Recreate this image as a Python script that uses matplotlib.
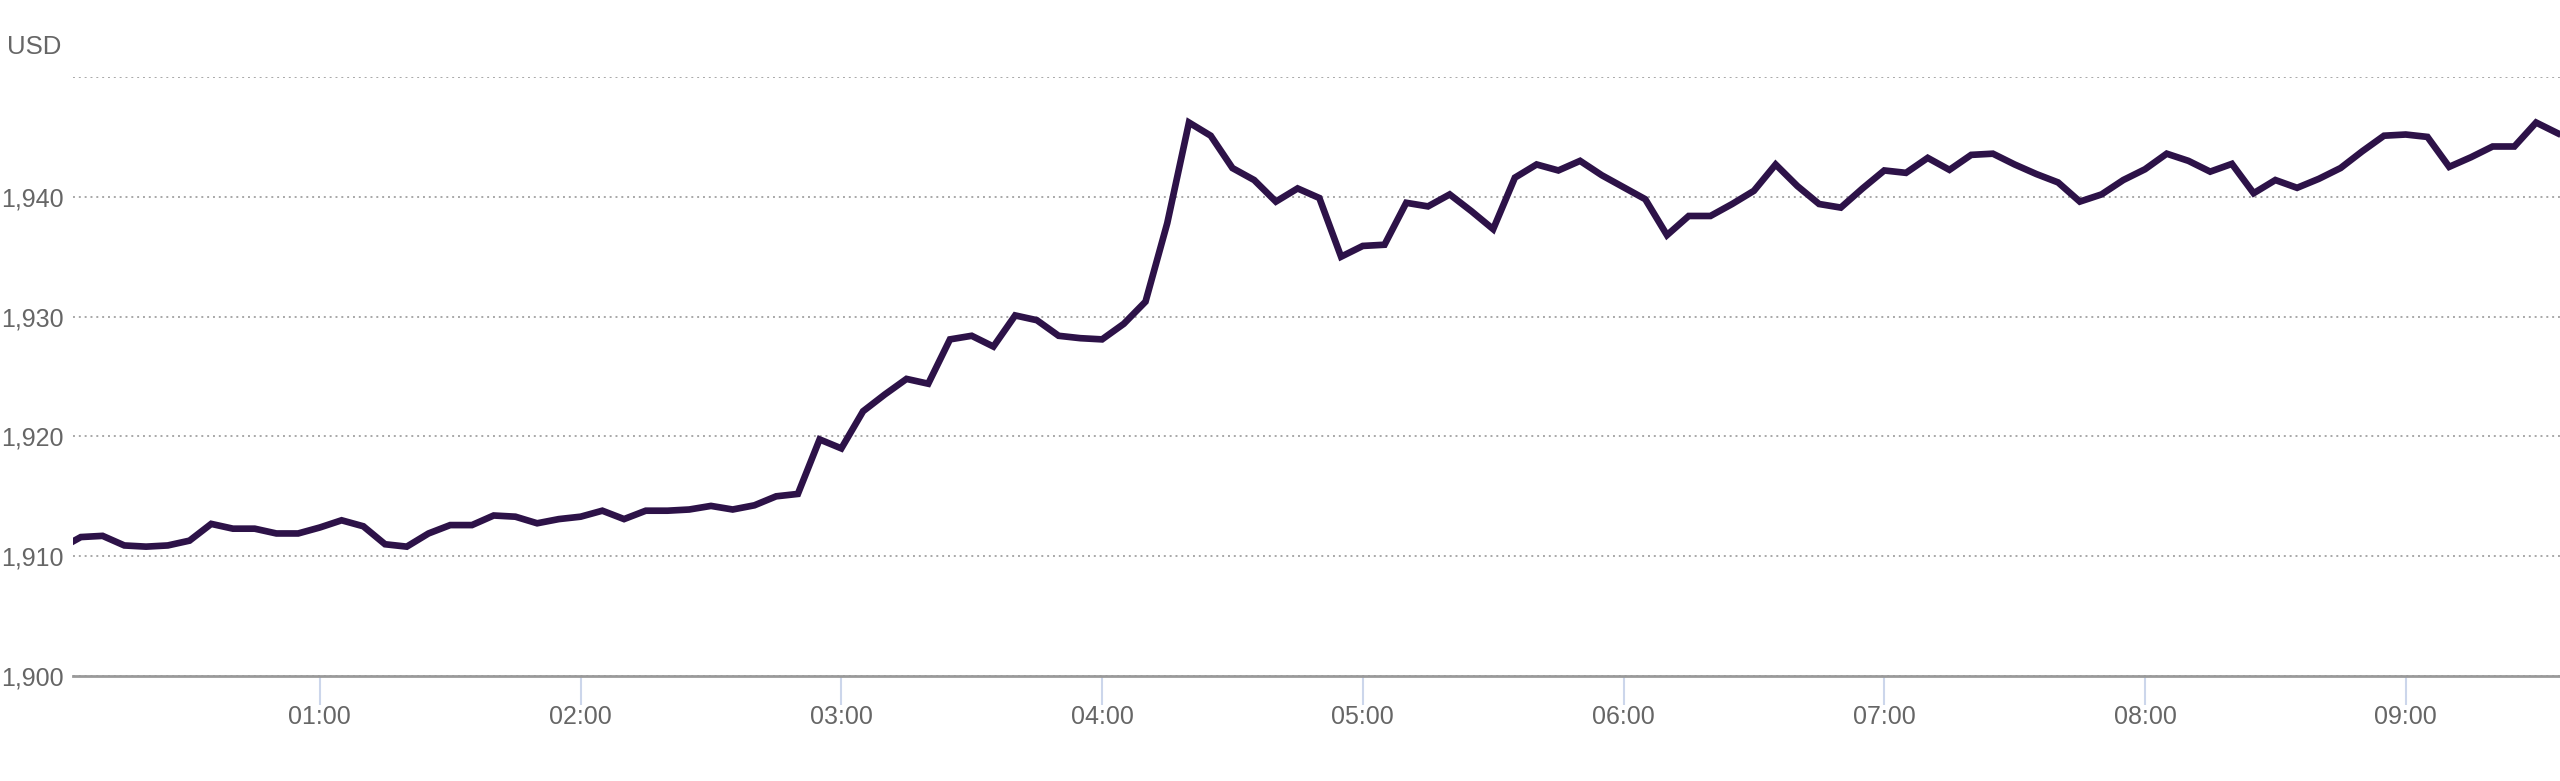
#!/usr/bin/env python3
"""
Intraday price line (5 minute steps), USD.
"""

import matplotlib
matplotlib.use("Agg")
import matplotlib.pyplot as plt

# 5 minute prices starting at 00:00
START_MIN = 0
STEP_MIN = 5
prices = [
    1910.6, 1911.6, 1911.7, 1910.9, 1910.8, 1910.9, 1911.3, 1912.7, 1912.3, 1912.3,
    1911.9, 1911.9, 1912.4, 1913.0, 1912.5, 1911.0, 1910.8, 1911.9, 1912.6, 1912.6,
    1913.4, 1913.3, 1912.75, 1913.1, 1913.3, 1913.8, 1913.1, 1913.8, 1913.8, 1913.9,
    1914.2, 1913.9, 1914.25, 1915.0, 1915.2, 1919.75, 1919.0, 1922.1, 1923.5, 1924.8,
    1924.4, 1928.1, 1928.4, 1927.5, 1930.1, 1929.7, 1928.4, 1928.2, 1928.1, 1929.4,
    1931.25, 1937.8, 1946.2, 1945.1, 1942.4, 1941.4, 1939.6, 1940.7, 1939.9, 1935.0,
    1935.9, 1936.0, 1939.5, 1939.2, 1940.2, 1938.8, 1937.3, 1941.6, 1942.7, 1942.2,
    1943.0, 1941.8, 1940.8, 1939.8, 1936.8, 1938.4, 1938.4, 1939.4, 1940.5, 1942.7,
    1940.9, 1939.4, 1939.1, 1940.7, 1942.2, 1942.0, 1943.25, 1942.25, 1943.5, 1943.6,
    1942.7, 1941.9, 1941.2, 1939.6, 1940.2, 1941.4, 1942.3, 1943.6, 1943.0, 1942.1,
    1942.75, 1940.3, 1941.4, 1940.75, 1941.5, 1942.4, 1943.8, 1945.1, 1945.2, 1945.0,
    1942.5, 1943.3, 1944.2, 1944.2, 1946.2, 1945.3,
]

tick_hours = ["01:00", "02:00", "03:00", "04:00", "05:00", "06:00", "07:00", "08:00", "09:00"]
y_ticks = [1900, 1910, 1920, 1930, 1940, 1950]

LINE_COLOR = "#2d1248"
TEXT_COLOR = "#666666"
FONT = ["Liberation Sans", "DejaVu Sans"]


def main():
    plt.rcParams["font.family"] = FONT

    minutes = [START_MIN + i * STEP_MIN for i in range(len(prices))]
    tick_pos = [int(h[:2]) * 60 for h in tick_hours]

    fig = plt.figure(figsize=(25.6, 7.81), dpi=100)
    ax = fig.add_axes([0.0287, 0.1344, 0.9713, 0.767])

    ax.plot(minutes, prices, color=LINE_COLOR, linewidth=4.8,
            solid_joinstyle="miter", zorder=3)

    ax.set_xlim(3.3, 575.5)
    ax.set_ylim(1900, 1950)

    # Gridlines (dotted)
    ax.set_yticks(y_ticks)
    ax.set_yticklabels(["{:,}".format(v) for v in y_ticks[:-1]] + [""])
    ax.yaxis.grid(True, linestyle=(0, (1, 2)), color="#a8a8a8", linewidth=1.4)
    ax.set_axisbelow(True)

    ax.set_xticks(tick_pos)
    ax.set_xticklabels(tick_hours)

    for side in ("top", "right", "left"):
        ax.spines[side].set_visible(False)
    ax.spines["bottom"].set_color("#9a9a9a")
    ax.spines["bottom"].set_linewidth(2.0)
    ax.spines["bottom"].set_zorder(4)

    ax.tick_params(axis="x", length=21, width=1.5, color="#ccd6eb",
                   labelsize=18, labelcolor=TEXT_COLOR, pad=0)
    ax.tick_params(axis="y", length=0, labelsize=18, labelcolor=TEXT_COLOR, pad=7)

    fig.text(7 / 2560, 1 - 47 / 781, "USD", fontsize=18.5, color=TEXT_COLOR,
             ha="left", va="center")

    fig.savefig("out.png", dpi=100)


if __name__ == "__main__":
    main()
